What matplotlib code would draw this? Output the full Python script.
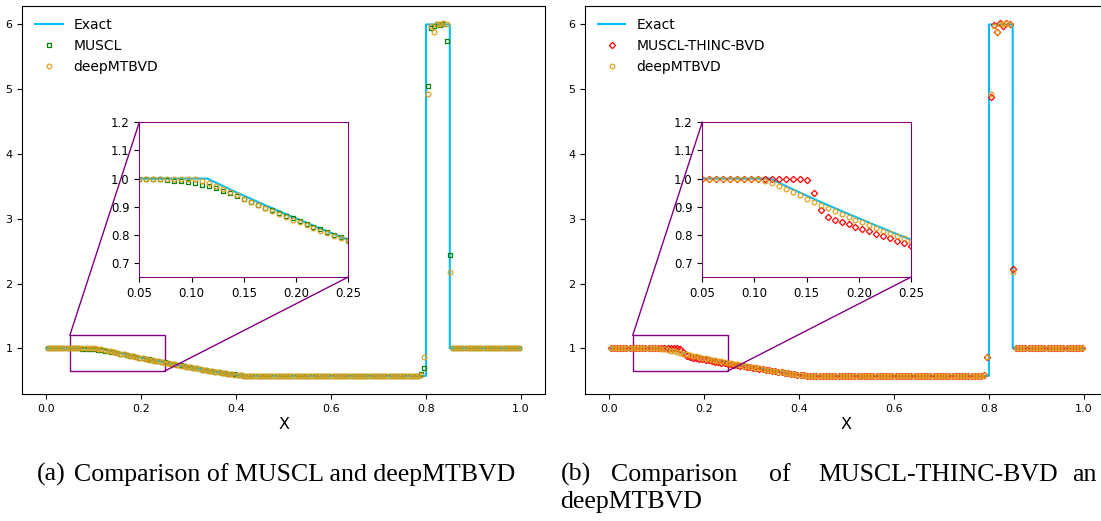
import numpy as np
import matplotlib
matplotlib.use('Agg')
import matplotlib.pyplot as plt
from matplotlib.patches import Rectangle, ConnectionPatch

# cell centres, 150 cells on [0, 1]
x = (np.arange(150) + 0.5) / 150

# exact solution (breakpoints)
exact_x = [0.0, 0.115, 0.14, 0.165, 0.19, 0.215, 0.24, 0.265, 0.29, 0.315, 0.34,
           0.365, 0.39, 0.41, 0.8, 0.8, 0.85, 0.85, 1.0]
exact_rho = [1.0, 1.0, 0.956, 0.914, 0.874, 0.835, 0.797, 0.761, 0.726, 0.692, 0.660,
             0.628, 0.598, 0.575, 0.575, 6.0, 6.0, 1.0, 1.0]

plateau = [0.573, 0.571, 0.570, 0.569, 0.568, 0.568, 0.568, 0.568, 0.569, 0.569,
           0.570, 0.571, 0.572, 0.573, 0.574, 0.575, 0.575, 0.575, 0.575, 0.575,
           0.575, 0.575, 0.575, 0.575, 0.575, 0.575, 0.575, 0.575, 0.575, 0.575,
           0.575, 0.575, 0.575, 0.575, 0.575, 0.575, 0.575, 0.575, 0.575, 0.575,
           0.575, 0.575, 0.575, 0.575, 0.575, 0.575, 0.575, 0.574, 0.573, 0.572,
           0.571, 0.570, 0.569]

muscl = ([1.0] * 9 +
         [0.999, 0.998, 0.996, 0.993, 0.990, 0.987, 0.983, 0.978, 0.973, 0.965,
          0.956, 0.948, 0.938, 0.928, 0.918, 0.907, 0.897, 0.887, 0.877, 0.867,
          0.858, 0.848, 0.839, 0.829, 0.819, 0.810, 0.800, 0.791, 0.781] +
         [0.772, 0.763, 0.753, 0.744, 0.735, 0.726, 0.717, 0.708, 0.699, 0.690,
          0.681, 0.672, 0.664, 0.655, 0.647, 0.639, 0.631, 0.623, 0.616, 0.609,
          0.602, 0.596, 0.590, 0.585, 0.580, 0.576] +
         plateau +
         [0.566, 0.604, 0.690, 5.05, 5.94, 5.97, 6.00, 5.99, 6.00, 5.74, 2.44] +
         [1.0] * 22)

deep = ([1.0] * 15 +
        [0.999, 0.992, 0.983, 0.973, 0.962, 0.951, 0.940, 0.929, 0.918, 0.907,
         0.896, 0.885, 0.875, 0.864, 0.854, 0.844, 0.834, 0.825, 0.815, 0.806,
         0.797, 0.788, 0.778] +
        [0.769, 0.760, 0.751, 0.742, 0.733, 0.724, 0.715, 0.706, 0.697, 0.689,
         0.680, 0.671, 0.663, 0.655, 0.646, 0.638, 0.630, 0.622, 0.615, 0.608,
         0.601, 0.595, 0.589, 0.584, 0.579, 0.576] +
        plateau +
        [0.566, 0.583, 0.867, 4.93, 5.97, 5.88, 6.01, 6.00, 6.02, 6.01, 2.18] +
        [1.0] * 22)

thinc = ([1.0] * 22 +
         [0.994, 0.950, 0.888, 0.865, 0.854, 0.846, 0.837, 0.829, 0.820, 0.812,
          0.804, 0.795, 0.787, 0.779, 0.771, 0.761] +
         [0.753, 0.745, 0.738, 0.730, 0.723, 0.715, 0.708, 0.700, 0.692, 0.684,
          0.676, 0.668, 0.660, 0.652, 0.644, 0.636, 0.628, 0.621, 0.614, 0.607,
          0.600, 0.594, 0.588, 0.583, 0.579, 0.576] +
         plateau +
         [0.566, 0.585, 0.870, 4.88, 5.99, 5.88, 6.03, 5.97, 6.02, 6.00, 2.22] +
         [1.0] * 22)

W, H = 1101, 521
fig = plt.figure(figsize=(W / 100, H / 100), dpi=100)

blue = '#00bfff'
gold = '#e0a020'


def panel(x0, scheme, label, style):
    ax = fig.add_axes([x0 / W, 1 - 394.3 / H, 522.5 / W, 388.6 / H])
    ax.plot(exact_x, exact_rho, color=blue, lw=1.5, label='Exact')
    ax.plot(x, scheme, ls='none', label=label, **style)
    ax.plot(x, deep, ls='none', marker='o', ms=3.4, mfc='none', mec=gold, mew=0.9,
            label='deepMTBVD')
    ax.set_xlim(-0.05, 1.05)
    ax.set_ylim(0.29, 6.29)
    ax.set_xticks([0.0, 0.2, 0.4, 0.6, 0.8, 1.0])
    ax.set_xticklabels(['0.0', '0.2', '0.4', '0.6', '0.8', '1.0'])
    ax.set_yticks([1, 2, 3, 4, 5, 6])
    ax.tick_params(labelsize=8)
    ax.set_xlabel('X', fontsize=11.5, labelpad=2)
    ax.legend(loc='upper left', frameon=False, fontsize=10)

    # zoomed inset
    axins = fig.add_axes([(x0 + 117) / W, 1 - 277 / H, 209 / W, 154.7 / H])
    axins.plot(exact_x, exact_rho, color=blue, lw=1.5)
    axins.plot(x, scheme, ls='none', **style)
    axins.plot(x, deep, ls='none', marker='o', ms=3.4, mfc='none', mec=gold, mew=0.9)
    axins.set_xlim(0.05, 0.25)
    axins.set_ylim(0.65, 1.2)
    axins.set_xticks([0.05, 0.10, 0.15, 0.20, 0.25])
    axins.set_xticklabels(['0.05', '0.10', '0.15', '0.20', '0.25'])
    axins.set_yticks([0.7, 0.8, 0.9, 1.0, 1.1, 1.2])
    axins.set_yticklabels(['0.7', '0.8', '0.9', '1.0', '1.1', '1.2'])
    axins.tick_params(labelsize=8.5)
    for s in axins.spines.values():
        s.set_edgecolor('purple')

    ax.add_patch(Rectangle((0.05, 0.65), 0.2, 0.55, fill=False, ec='purple', lw=1))
    for pt in [(0.05, 1.2), (0.25, 0.65)]:
        con = ConnectionPatch(xyA=pt, coordsA=ax.transData, xyB=pt, coordsB=axins.transData,
                              color='purple', lw=1)
        fig.add_artist(con)


panel(22.3, muscl, 'MUSCL',
      dict(marker='s', ms=3.4, mfc='none', mec='green', mew=0.9))
panel(585.2, thinc, 'MUSCL-THINC-BVD',
      dict(marker='D', ms=3.2, mfc='none', mec='red', mew=0.9))

# captions
cap = dict(family='Liberation Serif', fontsize=18.6, va='baseline')
fig.text(36.8 / W, 1 - 481 / H, '(a)', **cap)
fig.text(73.7 / W, 1 - 481 / H, 'Comparison of MUSCL and deepMTBVD', **cap)
for px, word in [(560.5, '(b)'), (611, 'Comparison'), (769, 'of'),
                 (818, 'MUSCL-THINC-BVD'), (1072, 'an')]:
    fig.text(px / W, 1 - 481 / H, word, **cap)
fig.text(560.5 / W, 1 - 508 / H, 'deepMTBVD', **cap)

fig.savefig('out.png', dpi=100)
